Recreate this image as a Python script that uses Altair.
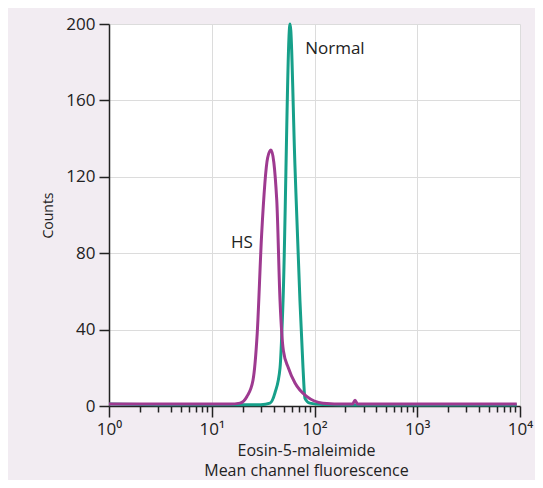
import altair as alt
import pandas as pd

# Normal series (teal)
normal_x = [1, 3, 10, 20, 30, 36.9, 41.3, 46.2, 49.4, 57.8, 64.6, 72.2, 77.3, 80.8, 90, 120, 300, 1000, 3000, 9300]
normal_y = [1.0, 0.7, 0.6, 0.6, 0.7, 1.5, 7, 20, 55, 200, 125, 55, 20, 4, 1.5, 0.8, 0.5, 0.5, 0.5, 0.5]

# HS series (magenta)
hs_x = [1, 3, 10, 15, 18.8, 22, 25.2, 27.7, 30.6, 35.0, 37.7, 42.9, 46.2, 49.8, 55.6, 64.6, 83.9, 121, 200, 235, 248, 262, 500, 1000, 3000, 9300]
hs_y = [1.0, 1.0, 1.0, 1.0, 1.5, 5, 13.5, 38, 90, 130, 134, 108, 55, 29, 20, 12, 5, 1.5, 1.0, 1.0, 3, 1.0, 1.0, 1.0, 1.0, 1.0]

label_text = ["Normal", "HS"]
label_x = [158, 19.7]
label_y = [187, 85.6]

x_ticks = [1, 2, 3, 4, 5, 6, 7, 8, 9,
           10, 20, 30, 40, 50, 60, 70, 80, 90,
           100, 200, 300, 400, 500, 600, 700, 800, 900,
           1000, 2000, 3000, 4000, 5000, 6000, 7000, 8000, 9000, 10000]
y_ticks = [0, 40, 80, 120, 160, 200]

FONT = "Open Sans"
TEAL = "#17a08a"
MAGENTA = "#9e3a90"

normal_df = pd.DataFrame({"x": normal_x, "y": normal_y})
hs_df = pd.DataFrame({"x": hs_x, "y": hs_y})
lab_df = pd.DataFrame({"text": label_text, "x": label_x, "y": label_y})

major = "indexof([1,10,100,1000,10000], datum.value) >= 0"
label_expr = ("indexof([1,10,100,1000,10000], datum.value) >= 0 ? '10' + "
              "['\u2070','\u00b9','\u00b2','\u00b3','\u2074'][indexof([1,10,100,1000,10000], datum.value)] : ''")

x_scale = alt.Scale(type="log", domain=[1, 10000], nice=False)
y_scale = alt.Scale(domain=[0, 200], nice=False)

x_axis = alt.Axis(
    values=x_ticks,
    labelExpr=label_expr,
    labelOverlap=False,
    labelFlush=False,
    labelFontSize=17,
    labelFont=FONT,
    labelColor="#222222",
    labelPadding=4,
    tickSize={"condition": {"test": major, "value": 11}, "value": 6},
    tickColor="#222222",
    tickWidth=1.5,
    domainColor="#222222",
    domainWidth=1.5,
    grid=True,
    gridColor="#dcdcdc",
    gridOpacity={"condition": {"test": major, "value": 1}, "value": 0},
    title=["Eosin-5-maleimide", "Mean channel fluorescence"],
    titleFont=FONT,
    titleFontSize=16,
    titleFontWeight="normal",
    titleColor="#222222",
    titleLineHeight=20,
    titlePadding=5,
    titleX=197,
    titleAlign="center",
)

y_axis = alt.Axis(
    values=y_ticks,
    labelFontSize=17,
    labelFont=FONT,
    labelColor="#222222",
    labelPadding=4,
    tickSize=10,
    tickColor="#222222",
    tickWidth=1.5,
    domainColor="#222222",
    domainWidth=1.5,
    grid=True,
    gridColor="#dcdcdc",
    title="Counts",
    titleFont=FONT,
    titleFontSize=14,
    titleFontWeight="normal",
    titleColor="#222222",
    titlePadding=10,
)

normal_line = alt.Chart(normal_df).mark_line(color=TEAL, strokeWidth=3, interpolate="monotone").encode(
    x=alt.X("x:Q", scale=x_scale, axis=x_axis),
    y=alt.Y("y:Q", scale=y_scale, axis=y_axis),
)

hs_line = alt.Chart(hs_df).mark_line(color=MAGENTA, strokeWidth=3, interpolate="monotone").encode(
    x=alt.X("x:Q", scale=x_scale),
    y=alt.Y("y:Q", scale=y_scale),
)

labels = alt.Chart(lab_df).mark_text(font=FONT, fontSize=17, color="#222222", align="center", baseline="middle").encode(
    x=alt.X("x:Q", scale=x_scale),
    y=alt.Y("y:Q", scale=y_scale),
    text="text:N",
)

chart = alt.layer(normal_line, hs_line, labels).properties(
    width=411,
    height=382,
    background="#f2ecf2",
    padding={"left": 101, "top": 16, "right": 15, "bottom": 74},
    autosize=alt.AutoSizeParams(type="none"),
).configure_view(fill="white", stroke=None)

chart.save("out.html", embed_options={"renderer": "svg", "actions": False})
